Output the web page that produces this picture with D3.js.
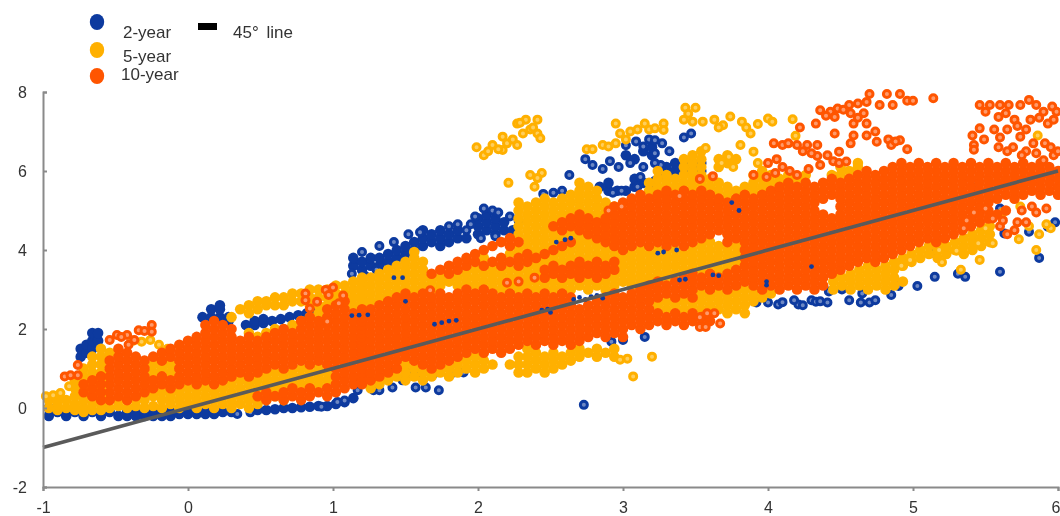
<!DOCTYPE html>
<html>
<head>
<meta charset="utf-8">
<script src="https://cdn.jsdelivr.net/npm/d3@7"></script>
<style>
html, body { margin: 0; padding: 0; background: #fff; overflow: hidden; }
svg { display: block; font-family: "Liberation Sans", Arial, sans-serif; filter: blur(0.45px); }
</style>
</head>
<body>
<div id="chart"></div>
<script>
// values: x = maturity axis, y = list of values at that x
// "Cols" are the packed parts of each cloud, "Rings" the loose points around them

const xTicks = [-1, 0, 1, 2, 3, 4, 5, 6]
const yTicks = [-2, 0, 2, 4, 6, 8]
const lineEnds = [[-1, -1], [6, 6]]

const twoYearCols = [
[-.96,[-.2,0]],[-.9,[-.1]],[-.84,[-.2,-.1]],[-.78,[-.1]],[-.72,[-.2,-.1]],[-.66,[-.1]],[-.6,[-.2,-.1]],[-.54,[-.1]],[-.48,[-.2]],[-.42,[-.2,-.1]],[-.36,[-.1,-.2]],[-.3,[-.2,-.1]],[-.24,[-.1,-.2]],[-.18,[-.2,-.1]],[-.12,[-.1,-.2]],[-.06,[-.1,-.15]],[0,[-.1,-.15]],[.06,[-.1,-.15]],[.12,[-.1,-.15]],[.18,[-.1,-.15]],[.24,[-.1]],[.3,[-.1]],[.48,[-.05]],[.54,[-.05]],[.6,[-.03]],[.66,[0]],[.72,[0]],[.78,[.02]],[.84,[.03]],[.9,[.05]],[.96,[.05]],[1.02,[.1]],[1.08,[.15]],[1.14,[.25]],
[-.74,[1.3,1.5]],[-.7,[1.4,1.6]],[-.66,[1.5,1.7,1.9]],[-.62,[1.7,1.9]],
[.1,[2.3]],[.16,[2.3,2.5]],[.22,[2.3,2.5,2.6]],[.28,[2.3,2.2]],
[.4,[2.1]],[.46,[2.1,2.2]],[.52,[2.15,2.25]],[.58,[2.2]],[.64,[2.25]],[.7,[2.3]],[.76,[2.35]],[.82,[2.4]],[.88,[2.45]],
[1.14,[3.6,3.8]],[1.2,[3.5,3.7]],[1.26,[3.6,3.8]],[1.32,[3.6,3.8]],[1.38,[3.7,3.9]],[1.44,[3.8,4]],[1.5,[3.9,4.1]],[1.56,[4,4.2]],[1.62,[4.1,4.3,4.5]],[1.68,[4.2,4.4]],[1.74,[4.1,4.3,4.5]],[1.8,[4.2,4.4]],[1.86,[4.3,4.5]],[1.92,[4.3]],[2,[4.4,4.6,4.8]],[2.06,[4.5,4.7,4.9]],[2.12,[4.4,4.6,4.8]],[2.18,[4.5,4.7]],[2.24,[4.5]],
[2.84,[5.6]],[2.9,[5.5,5.7]],[2.96,[5.5]],[3.02,[5.5,6.4]],[3.08,[5.6,5.8,6.3]],[3.14,[5.7,6.5]],[3.2,[6.4,6.6]],[3.3,[5.9,6.1]],[3.36,[6,6.2]],[3.42,[6,6.2]],[3.48,[6,6.2]],[3.54,[6,6.2]]
]
const twoYearRings = [
[1.17,.6],[1.17,.45],[1.28,.45],[1.32,.45],[1.41,.52],[1.57,.52],[1.64,.52],[1.73,.45],[1.48,.7],[1.41,.94],[1.52,.88],[1.6,.88],[1.7,.88],[1.82,.88],[1.9,.9],[2.73,.08],[2.92,1.68],[3,1.72],[3.15,1.8],
[.34,-.15],[.43,-.11],[.92,.03],[1.08,.19],[1.03,.15],
[3.92,2.67],[4,2.67],[4.07,2.62],[4.21,2.62],[4.18,2.73],[4.3,2.73],[4.33,2.69],[4.41,2.67],[4.56,2.73],[4.64,2.67],[4.7,2.67],[4.74,2.73],[4.85,2.86],[4.51,3],[4.65,2.9],[4.42,2.95],[5.03,3.09],[4.9,3.09],[4.1,2.68],[4.24,2.6],[4.36,2.7],
[5.12,3.92],[5.15,3.32],[5.31,3.4],[5.36,3.32],[5.6,3.45],[5.87,3.8],[5.8,4.46],[5.93,4.59],[5.6,5.05],[5.43,5.58],[5.63,4.42],[5.98,4.7],
[1.98,4.85],[2.04,5.05],[2.1,5],[2.14,4.95],[2.22,4.85],[2.28,4.75],[1.95,4.65],[2.02,4.3],[2.12,4.35],[1.8,4.6],[1.86,4.65],[1.92,4.5],[1.6,4.45],[1.52,4.4],[1.42,4.2],[1.32,4.1],[1.2,3.95],[1.13,3.4],[1.22,3.35],[1.3,3.5],
[2.45,5.42],[2.52,5.45],[2.58,5.5],[2.63,5.9],[2.74,6.3],[2.79,6.15],[2.91,6.25],[2.86,6.05],[2.97,6.1],[3.02,6.65],[3.05,6.2],[3.09,6.75],[3.14,6.62],[3.18,6.8],[3.22,6.78],[3.27,6.7],[3.22,6.45],[3.26,6.15],[3.22,6.2],[3.14,6.1],[2.93,5.45],[2.99,5.5],[3.1,5.6],[3.2,5.5],[3.22,5.75],[3.26,5.85],[3.42,6.85],[3.47,6.95],[3.32,6.5],[3.5,6.05],[3.12,5.85]
]
const twoYearOnTop = [
[2.66,2.75],[2.7,2.8],[2.74,2.75],[2.78,2.82],[2.82,2.85],[2.86,2.78],[2.44,2.48],[2.48,2.5],[2.5,2.42],[1.7,2.12],[1.75,2.16],[1.8,2.2],[1.85,2.22],[1.13,2.34],[1.18,2.35],[1.24,2.36],[3.24,3.92],[3.28,3.95],[3.37,4],[3.39,3.24],[3.43,3.26],[1.42,3.3],[1.48,3.3],[3.62,3.37],[3.66,3.35],[4.3,3.58],[3.99,3.11],[3.99,3.2],[2.54,4.2],[2.6,4.26],[2.64,4.3],[1.5,2.7],[3.8,5],[3.75,5.2]
]

const fiveYearCols = [
[-.96,[0,.2]],[-.9,[-.05,.1,.25]],[-.84,[0,.2]],[-.78,[-.05,.1,.3,.5,.7]],[-.72,[-.1,0,.2,.4,.6,.8,1]],[-.66,[-.05,.1,.3,.5,.7,.9,1.1,1.3]],[-.6,[-.05,.1,.3,.5,.7,.9,1.1,1.3,1.5]],[-.54,[0,.2,1.4]],[-.48,[.05,.2]],[-.42,[0,.2]],[-.36,[.05,.2]],[-.3,[0,.2,.4]],
[-.24,[.05,.3,.5,.7,.9,1.1]],[-.18,[0,.2,.4,.6,1,1.2]],[-.12,[.1,.3,.5,.9,1.1]],[-.06,[0,.2,.4,.6]],[0,[.1,.3,.5]],[.06,[0,.2,.4,.6]],[.12,[.1,.3,.5]],[.18,[0,.2,.4,.6]],[.24,[.1,.3,.5,.7]],[.3,[0,.2,.4,.6,.8,2.3]],[.36,[.1,.3,.5,.7,.9,2.5]],[.42,[0,.2,.4,.6,.8,1.9,2.4,2.6]],[.48,[.1,.3,.5,.7,.9,1.8,2.5,2.7]],[.54,[.2,.4,.6,.8,1.9,2.6,2.7]],[.6,[.3,.5,.7,.9,2,2.6,2.8]],[.66,[.2,.4,.6,.8,2,2.6,2.8]],[.72,[.5,.7,.9,2.1,2.7,2.9]],[.78,[.6,.8,1,2.2,2.7,2.9]],[.84,[.5,.7,.9,2.3,2.6,2.8,3]],[.9,[.6,.8,1,2.4,2.6,2.8,3]],[.96,[.7,.9,2.6,2.8,3]],[1.02,[2.7,2.9,3.1]],[1.08,[2.7,2.9,3.1]],[1.14,[2.6,2.8,3,3.2]],[1.2,[2.6,2.7,2.8,2.9,3,3.1,3.2,3.3]],[1.26,[.5,.7,2.7,2.9,3.1,3.3]],[1.32,[.6,.8,2.8,3,3.2,3.4]],[1.38,[.7,.9,2.9,3.1,3.3,3.5]],[1.44,[.8,2.8,3,3.2,3.4,3.6]],[1.5,[.7,.9,1.1,2.9,3.1,3.3,3.5,3.7]],[1.56,[.8,1,3,3.2,3.4,3.6,3.8,3.95]],[1.62,[.7,.9,3.1,3.3,3.5,3.7]],[1.68,[.8,3,3.2]],[1.74,[.9,3.1,3.3]],[1.8,[.8,1,3.2]],[1.86,[.9,1.1,3.1,3.3]],[1.92,[1,1.2,3.2,3.4]],[1.98,[.9,1.1,1.3,3.1,3.3,3.5]],[2.04,[1,1.2,3.2,3.4,3.8]],[2.1,[1.1,3.1,3.3,3.5]],[2.16,[3,3.2,3.4]],[2.22,[1.1,3.1,3.3,3.5,3.9]],[2.28,[.9,1.1,1.3,3,3.2,3.4,4,4.4,4.6,4.8,5,5.2]],[2.34,[.9,1.1,1.3,1.5,3.1,3.3,3.5,3.7,3.9,4.1,4.3,4.5,4.7,4.9,5.1]],[2.4,[1,1.2,1.4,3,3.2,3.4,3.6,3.8,4,4.2,4.4,4.6,4.8,5,5.2]],[2.46,[.9,1.1,1.3,3.1,3.3,3.5,3.7,3.9,4.1,4.3,4.5,4.7,4.9,5.1,5.3]],[2.52,[1,1.2,1.4,3,3.2,3.4,3.6,3.8,4,4.2,4.4,4.6,4.8,5,5.2]],[2.58,[1.1,1.3,3.1,3.3,3.5,3.7,3.9,4.1,4.3,4.5,4.7,4.9,5.1,5.3]],[2.64,[1.2,1.4,3,3.2,3.4,3.6,3.8,4,4.2,4.4,4.6,4.8,5,5.2,5.4]],[2.7,[1.3,1.5,3.1,3.3,3.5,3.7,3.9,4.1,4.3,4.5,4.7,4.9,5.1,5.3,5.5,5.7]],[2.76,[1.4,3,3.2,3.4,3.6,3.8,4,4.2,4.4,4.6,4.8,5,5.2,5.4,5.6]],[2.82,[1.3,1.5,3.1,3.3,3.5,3.7,3.9,4.1,4.3,4.5,4.7,4.9,5.1,5.3,5.5]],[2.88,[1.4,3,3.2,3.4,3.6,3.8,4,4.2,4.4,4.6,4.8,5,5.2]],[2.94,[1.3,1.5,3.1,3.3,3.5,3.7,3.9,4.1,4.3,4.5,4.7,4.9,5.1]],[3,[3.2,3.4,3.6,3.8,5]],[3.06,[3.1,3.3,3.5,3.7,3.9]],[3.12,[3,3.2,3.4,3.6,3.8,4]],[3.18,[3.1,3.3,3.5,3.7,3.9,5.5,5.7]],[3.24,[2.6,3.2,3.4,3.6,3.8,4,5.4,5.6,5.8,6]],[3.3,[2.5,2.7,3.3,3.5,3.7,3.9,5.5,5.7,5.9]],[3.36,[2.6,3.4,3.6,3.8,4,5.4,5.6,5.8]],[3.42,[2.5,2.7,3.5,3.7,3.9,5.5,5.7,5.9,6.1,6.3]],[3.48,[2.6,3.6,3.8,4,5.4,5.6,5.8,6,6.2,6.4]],[3.54,[2.5,2.7,2.9,3.5,3.7,3.9,4.1,5.5,5.7,5.9,6.1,6.3,6.5]],[3.6,[2.4,2.6,2.8,3.6,3.8,4,4.2,5.4,5.6,5.8]],[3.66,[2.5,2.7,2.9,3.5,3.7,3.9,4.1,5.3,5.5,5.7,6.1,6.3]],[3.72,[2.4,2.6,2.8,3.6,3.8,4,5.2,5.4,5.6,6.2,6.4]],[3.78,[2.5,2.7,2.9,3.7,3.9,4.1,5.3,5.5,6.3]],[3.84,[2.4,2.6,2.8,3,3.8,4,5.4,5.6]],[3.9,[2.7,2.9,5.5,5.7,5.9]],[3.96,[2.8,5.4,5.6,5.8,6]],[4.02,[2.9,5.5,5.7,5.9]],[4.08,[5.6,5.8]],[4.14,[5.7,5.9]],[4.2,[5.8]],[4.26,[5.9]],[4.44,[5.9]],[4.5,[5.9,6.1]],[4.56,[6]],[4.62,[6.1,6.2]],
[4.45,[3,3.2,3.4]],[4.51,[3.1,3.3]],[4.57,[3,3.2,3.4]],[4.63,[3.1,3.3,3.5]],[4.69,[3,3.2,3.4,3.6]],[4.75,[3.1,3.3,3.5]],[4.81,[3,3.2,3.4,3.6]],[4.87,[3.1,3.3,3.5,3.7]],[4.93,[3.2,3.6,3.8]],[4.99,[3.7,3.9]],[5.05,[3.8,4]],[5.11,[3.9,4.1]],[5.17,[3.8,4,4.2]],[5.23,[3.9,4.1]],[5.29,[4,4.2]],[5.35,[3.9,4.1,4.3]],[5.41,[4,4.2,4.4]],[5.47,[4.1,4.3,4.5]],[5.53,[4.2,4.4,4.6]]
]
const fiveYearRings = [
[1.99,6.6],[2.04,6.4],[2.1,6.66],[2.17,6.53],[2.17,6.87],[2.27,6.66],[2.27,7.2],[2.33,7.3],[2.41,7.3],[2.31,6.95],[2.41,6.95],[2.43,6.83],[2.2,6.7],[2.14,6.55],[2.24,6.8],[2.36,7.05],[2.07,6.5],[2.29,7.22],[2.38,7.1],
[2.21,5.7],[2.36,5.9],[2.44,5.95],[2.39,5.6],[2.41,5.82],
[2.95,7.2],[2.98,6.95],[3.05,7],[3.15,7.2],[3.28,7.2],[3.28,7.04],[3.1,7.05],[3.18,7.05],[3.22,7.08],[2.75,6.55],[2.86,6.66],[2.95,6.7],[2.79,6.55],[2.9,6.62],[3.02,6.8],
[3.42,7.3],[3.5,7.6],[3.43,7.6],[3.48,7.25],[3.45,7.45],[3.55,7.25],[3.63,7.3],[3.69,7.16],[3.74,7.38],[3.66,7.1],[3.82,7.25],[3.85,7.1],[3.88,6.95],[3.93,7.19],[4,7.33],[4.03,7.25],[4.17,7.31],[4.19,6.89],[3.81,6.66],[3.57,6.58],[3.73,6.36],[3.68,6.2],[3.76,6.1],[3.9,6.49],[3.93,6.2],
[-.98,.3],[-.93,.32],[-.88,.38],[-.82,.55],[-.38,1.7],[-.32,1.68],[-.26,1.72],[-.2,1.6],[-.14,1.5],
[5.2,3.69],[5.46,3.75],[5.33,3.5],[5.73,4.27],[5.87,4.4],[5.86,6.9],[5.85,4],[4.98,3.75],[4.92,3.6],[5.18,4],[5.3,3.98],[5.45,4.17],[5.55,4.17],[5.74,5.1],[5.62,4.95],[5.95,4.55],[5.8,4.6],[5.92,4.65],[5.5,4.55],
[3.07,.8],[3.2,1.3],[2.98,1.22],[3.03,1.25]
]

const tenYearCols = [
[-.72,[.4,.6]],[-.66,[.3,.5,.7]],[-.6,[.2,.4,.6,.8]],[-.54,[.2,.4,.6,.8,1,1.2]],[-.48,[.3,.5,.7,.9,1.1,1.3,1.5]],[-.42,[.2,.4,.6,.8,1,1.2,1.4]],[-.36,[.3,.5,.7,.9,1.1,1.3]],[-.3,[.4,.6,.8,1,1.2]],[-.24,[.5,.7,1.3]],[-.18,[.6,.8,1.2,1.4]],[-.12,[.5,.7,1.3,1.5]],[-.06,[.6,.8,1,1.2,1.4,1.6]],[0,[.7,.9,1.1,1.3,1.5,1.7]],[.06,[.6,.8,1,1.2,1.4,1.6,1.8]],[.12,[.7,.9,1.1,1.3,1.5,1.7,1.9,2.1]],[.18,[.6,.8,1,1.2,1.4,1.6,1.8,2,2.2]],[.24,[.7,.9,1.1,1.3,1.5,1.7,1.9,2.1]],[.3,[.8,1,1.2,1.4,1.6,1.8,2]],[.36,[.9,1.1,1.3,1.5,1.7]],[.42,[.8,1,1.2,1.4,1.6,1.8]],[.48,[.3,.9,1.1,1.3,1.5,1.7]],[.54,[.2,.4,1,1.2,1.4,1.6,1.8]],[.6,[.3,1.1,1.3,1.5,1.7,1.9]],[.66,[.2,.4,1,1.2,1.4,1.6,1.8,2]],[.72,[.3,.5,1.1,1.3,1.5,1.7,1.9]],[.78,[.2,.4,1.2,1.4,1.6,1.8,2,2.2]],[.84,[.3,.5,1.1,1.3,1.5,1.7,1.9,2.1,2.3]],[.9,[.4,1.2,1.4,1.6,1.8,2,2.2]],[.96,[.3,.5,1.1,1.3,1.5,1.7,1.9,2.1,2.3,2.5]],
[1.02,[.4,.6,.8,1,1.2,1.4,1.6,1.8,2,2.2,2.4,2.6]],[1.08,[.5,.7,.9,1.1,1.3,1.5,1.7,1.9,2.1,2.3,2.5,2.7]],[1.14,[.6,.8,1,1.2,1.4,1.6,1.8,2,2.2,2.4]],[1.2,[.6,.7,.8,.9,1,1.1,1.2,1.3,1.4,1.5,1.6,1.7,1.8,1.9,2,2.1,2.2,2.3,2.4,2.5]],[1.26,[.7,.9,1.1,1.3,1.5,1.7,1.9,2.1,2.3,2.5]],[1.32,[.8,1,1.2,1.4,1.6,1.8,2,2.2,2.4,2.6]],[1.38,[.9,1.1,1.3,1.5,1.7,1.9,2.1,2.3,2.5,2.7]],[1.44,[1,1.2,1.4,1.6,1.8,2,2.2,2.4,2.6,2.8]],[1.5,[1.3,1.5,1.7,1.9,2.1,2.3,2.5,2.7,2.9]],[1.56,[1.2,1.4,1.6,1.8,2,2.2,2.4,2.6,2.8]],[1.62,[1.1,1.3,1.5,1.7,1.9,2.1,2.3,2.5,2.7,2.9]],[1.68,[1,1.2,1.4,1.6,1.8,2,2.2,2.4,2.6,2.8,3.4]],[1.74,[1.1,1.3,1.5,1.7,1.9,2.1,2.3,2.5,2.7,2.9,3.5]],[1.8,[1.2,1.4,1.6,1.8,2,2.2,2.4,2.6,2.8,3.4,3.6]],[1.86,[1.3,1.5,1.7,1.9,2.1,2.3,2.5,2.7,2.9,3.5,3.7]],[1.92,[1.4,1.6,1.8,2,2.2,2.4,2.6,2.8,3,3.6,3.8]],[1.98,[1.5,1.7,1.9,2.1,2.3,2.5,2.7,2.9,3.7,3.9]],[2.04,[1.4,1.6,1.8,2,2.2,2.4,2.6,2.8,3,3.6,4]],[2.1,[1.5,1.7,1.9,2.1,2.3,2.5,2.7,2.9,3.7,4.1]],[2.16,[1.4,1.6,1.8,2,2.2,2.4,2.6,2.8,3.6,3.8,4.2]],[2.22,[1.5,1.7,1.9,2.1,2.3,2.5,2.7,2.9,3.7,4.1,4.3]],[2.28,[1.6,1.8,2,2.2,2.4,2.6,2.8,3.6,3.8,4.2]],[2.34,[1.7,1.9,2.1,2.3,2.5,2.7,2.9,3.7,3.9]],[2.4,[1.6,1.8,2,2.2,2.4,2.6,2.8,3.8]],[2.46,[1.7,1.9,2.1,2.3,2.5,2.7,2.9,3.3,3.5,3.9]],[2.52,[1.6,1.8,2,2.2,2.4,2.6,2.8,3.4,3.6,4,4.6]],[2.58,[1.7,1.9,2.1,2.3,2.5,2.7,2.9,3.3,3.5,4.1,4.5,4.7]],[2.64,[1.6,1.8,2,2.2,2.4,2.6,2.8,3.4,3.6,4.2,4.6,4.8]],[2.7,[1.7,1.9,2.1,2.3,2.5,3.3,3.5,3.7,4.5,4.7,4.9]],[2.76,[1.8,2,2.2,2.4,2.6,3.4,3.6,4.4,4.6,4.8]],[2.82,[1.9,2.1,2.3,2.5,2.7,3.3,3.5,3.7,4.3,4.5,4.7]],[2.88,[1.8,2,2.2,2.4,2.6,2.8,3.4,3.6,4.2,4.4,4.6,4.8]],[2.94,[1.9,2.1,2.3,2.5,2.7,2.9,3.5,3.7,4.1,4.3,4.5,4.7,4.9,5.1]],[3,[1.8,2,2.2,2.4,2.6,2.8,4,4.2,4.4,4.6,4.8,5,5.2]],[3.06,[2.1,2.3,2.5,2.7,2.9,4.1,4.3,4.5,4.7,4.9,5.1,5.3]],[3.12,[2,2.2,2.4,2.6,2.8,3,4.2,4.4,4.6,4.8,5,5.2,5.4]],[3.18,[2.1,2.3,2.5,2.7,2.9,3.1,4.1,4.3,4.5,4.7,4.9,5.1,5.3]],[3.24,[2.2,2.4,2.8,3,3.2,4.2,4.4,4.6,4.8,5,5.2,5.4]],[3.3,[2.1,2.3,2.9,3.1,4.1,4.3,4.5,4.7,4.9,5.1,5.3,5.5]],[3.36,[2.2,2.4,2.8,3,3.2,4.2,4.4,4.6,4.8,5,5.2,5.4]],[3.42,[2.1,2.3,2.9,3.1,3.3,4.1,4.3,4.5,4.7,4.9,5.1,5.3,5.5]],[3.48,[2.2,2.4,2.8,3,3.2,3.4,4.2,4.4,4.6,4.8,5,5.2,5.4]],[3.54,[2.1,2.3,3.1,3.3,4.3,4.5,4.7,4.9,5.1,5.3,5.5]],[3.6,[2.2,3,3.2,3.4,4.4,4.6,4.8,5,5.2,5.4]],[3.66,[3.1,3.3,4.5,4.7,4.9,5.1,5.3]],[3.72,[3,3.2,3.4,4.2,4.4,4.6,4.8,5,5.2]],[3.78,[3.1,3.3,3.5,4.3,4.5,4.7,4.9,5.1,5.3]],[3.84,[3.2,3.4,3.6,3.8,4,4.2,4.4,4.6,4.8,5,5.2,5.4]],[3.9,[3.1,3.3,3.5,3.7,3.9,4.1,4.3,4.5,4.7,4.9,5.1,5.3]],[3.96,[3,3.2,3.4,3.6,3.8,4,4.2,4.4,4.6,4.8,5,5.2,5.4]],
[4.02,[3.1,3.3,3.5,3.7,3.9,4.1,4.3,4.5,4.7,4.9,5.1,5.3,5.5]],[4.08,[3,3.2,3.4,3.6,3.8,4,4.2,4.4,4.6,4.8,5,5.2,5.4,5.6]],[4.14,[3.1,3.3,3.5,3.7,3.9,4.1,4.3,4.5,4.7,4.9,5.1,5.3,5.5,5.7]],[4.2,[3,3.2,3.4,3.6,3.8,4,4.2,4.4,4.6,4.8,5,5.2,5.4,5.6]],[4.26,[3.1,3.3,3.5,3.7,3.9,4.1,4.3,4.5,4.7,4.9,5.1,5.3,5.5,5.7]],[4.32,[3,3.2,3.4,3.6,3.8,4,4.2,4.4,4.6,4.8,5,5.2,5.4,5.6]],[4.38,[3.1,3.3,3.5,3.7,3.9,4.1,4.3,4.5,4.7,4.9,5.3,5.5,5.7]],[4.44,[3.4,3.6,3.8,4,4.2,4.4,4.6,4.8,5.4,5.6,5.8]],[4.5,[3.5,3.7,3.9,4.1,4.3,4.5,4.7,4.9,5.1,5.3,5.5,5.7]],[4.56,[3.6,3.8,4,4.2,4.4,4.6,4.8,5,5.2,5.4,5.6,5.8]],[4.62,[3.7,3.9,4.1,4.3,4.5,4.7,4.9,5.1,5.3,5.5,5.7,5.9]],[4.68,[3.8,4,4.2,4.4,4.6,4.8,5,5.2,5.4,5.6,5.8,6]],[4.74,[3.7,3.9,4.1,4.3,4.5,4.7,4.9,5.1,5.3,5.5,5.7,5.9]],[4.8,[3.8,4,4.2,4.4,4.6,4.8,5,5.2,5.4,5.6,5.8,6]],[4.86,[3.9,4.1,4.3,4.5,4.7,4.9,5.1,5.3,5.5,5.7,5.9,6.1]],[4.92,[4,4.2,4.4,4.6,4.8,5,5.2,5.4,5.6,5.8,6,6.2]],[4.98,[4.1,4.3,4.5,4.7,4.9,5.1,5.3,5.5,5.7,5.9,6.1]],[5.04,[4.2,4.4,4.6,4.8,5,5.2,5.4,5.6,5.8,6,6.2]],[5.1,[4.3,4.5,4.7,4.9,5.1,5.3,5.5,5.7,5.9,6.1]],[5.16,[4.2,4.4,4.6,4.8,5,5.2,5.4,5.6,5.8,6,6.2]],[5.22,[4.3,4.5,4.7,4.9,5.1,5.3,5.5,5.7,5.9,6.1]],[5.28,[4.4,4.6,4.8,5,5.2,5.4,5.6,5.8,6,6.2]],[5.34,[4.5,4.7,4.9,5.1,5.3,5.5,5.7,5.9,6.1]],[5.4,[4.6,4.8,5,5.2,5.4,5.6,5.8,6,6.2]],[5.46,[4.7,4.9,5.1,5.3,5.5,5.7,5.9,6.1]],[5.52,[4.8,5,5.2,5.4,5.6,5.8,6,6.2]],[5.58,[4.9,5.3,5.5,5.7,5.9,6.1]],[5.64,[5,5.4,5.6,5.8,6,6.2]],[5.7,[5.3,5.5,5.7,5.9,6.1]],[5.76,[5.4,5.6,5.8,6,6.2]],[5.82,[5.5,5.7,5.9,6.1]],[5.88,[5.4,5.6,5.8,6,6.2]],[5.94,[5.5,5.7,5.9,6.1]],[6,[5.4,5.6,5.8,6]]
]
const tenYearRings = [
[4.7,7.95],[4.82,7.95],[4.91,7.95],[5.14,7.84],[4.96,7.78],[5,7.78],[4.77,7.67],[4.86,7.67],[4.68,7.75],[4.62,7.71],[4.56,7.67],[4.48,7.58],[4.43,7.5],[4.36,7.54],[4.33,7.2],[4.46,7.37],[4.57,7.46],[4.66,7.46],[4.59,7.2],[4.68,7.2],[4.22,7.1],[4.46,6.95],[4.59,6.9],[4.68,6.9],[4.74,7],[4.75,6.74],[4.57,6.7],[4.83,6.8],[4.91,6.78],[4.85,6.66],[4.96,6.55],[4.4,7.4],[4.52,7.55],[4.62,7.35],[4.88,6.75],
[5.46,7.67],[5.53,7.67],[5.6,7.67],[5.66,7.67],[5.74,7.67],[5.8,7.8],[5.85,7.67],[5.96,7.63],[5.99,7.5],[5.5,7.5],[5.59,7.37],[5.64,7.46],[5.7,7.3],[5.81,7.3],[5.87,7.35],[5.93,7.2],[5.41,6.9],[5.46,7.08],[5.49,6.8],[5.42,6.66],[5.42,6.54],[5.56,7.05],[5.65,7.05],[5.72,7.14],[5.91,6.7],[5.59,6.6],[5.74,6.87],[5.83,6.7],[5.97,6.4],[5.69,6.6],[5.78,6.5],[5.9,6.27],[5.78,7.05],[5.9,7.5],[5.97,7.3],[5.6,6.85],[5.65,6.5],[5.75,6.4],[5.85,6.45],[5.95,6.6],[6,6.5],
[4.04,6.7],[4.1,6.66],[4.14,6.7],[4.2,6.66],[4.27,6.66],[4.34,6.66],[4.24,6.5],[4.34,6.38],[4.41,6.4],[4.49,6.49],[4.54,6.24],[4,6.2],[4.06,6.3],[4.1,6.1],[4.05,5.95],[3.9,5.9],[4.3,6.45],[4.45,6.25],[4.49,6.2],[4.36,6.15],[4.28,6.05],[4.2,5.9],[4.15,6],[3.62,5.87],[3.53,5.8],[3.99,5.85],
[-.54,1.72],[-.49,1.85],[-.42,1.85],[-.37,1.72],[-.34,1.97],[-.25,2.1],[-.25,1.93],[-.3,1.95],[-.41,1.6],[-.46,1.8],[-.85,.8],[-.76,1.09],[-.76,.83],[-.81,.83],
[.81,2.9],[.81,2.73],[.89,2.69],[.95,2.99],[.97,2.86],[.84,2.52],[.96,2.19],[1.04,2.65],[1,3.05],[1.07,2.85],[1.67,2.98],[2.2,3.17],[2.28,3.2],[2.39,3.3],[3.39,5.37],[2.99,5.1],[2.9,5],
[3.53,2.05],[3.57,2.05],[3.53,2.3],[3.58,2.4],[3.63,2.4],[3.67,2.14],
[5.55,4.8],[5.6,4.6],[5.65,4.4],[5.62,4.75],[5.72,4.7],[5.78,4.7],[5.7,4.5],[5.82,5.1],[5.92,5.05],[5.75,5],[5.85,4.95],[5.5,5.05],[5.42,4.95],[5.37,4.75],[5.35,4.55]
]

const colors = { blue: "#0d3a9f", yellow: "#ffb000", orange: "#ff5500" }
const holes = { blue: "#6d88c4", yellow: "#ffce5c", orange: "#ff9a6a" }

const width = 1060
const height = 516

const svg = d3.select("#chart")
    .append("svg")
    .attr("width", width)
    .attr("height", height)

const x = d3.scaleLinear().domain([-1, 6]).range([43, 1058])
const y = d3.scaleLinear().domain([-2, 8]).range([487, 92])

// columns -> flat list of [x, y]
function flatten(cols) {
    return cols.flatMap(function (c) { return c[1].map(function (v) { return [c[0], v] }) })
}

function drawPacked(cols, color) {
    svg.append("g").selectAll("circle")
        .data(flatten(cols))
        .join("circle")
        .attr("cx", d => x(d[0]))
        .attr("cy", d => y(d[1]))
        .attr("r", 5.3)
        .attr("fill", color)
}

function drawRings(points, color, hole) {
    svg.append("g").selectAll("circle")
        .data(points)
        .join("circle")
        .attr("cx", d => x(d[0]))
        .attr("cy", d => y(d[1]))
        .attr("r", 3.5)
        .attr("fill", hole)
        .attr("stroke", color)
        .attr("stroke-width", 3)
}

drawPacked(twoYearCols, colors.blue)
drawRings(twoYearRings, colors.blue, holes.blue)
drawPacked(fiveYearCols, colors.yellow)
drawRings(fiveYearRings, colors.yellow, holes.yellow)
drawPacked(tenYearCols, colors.orange)
drawRings(tenYearRings, colors.orange, holes.orange)

// small blue patches that show through the orange
svg.append("g").selectAll("circle")
    .data(twoYearOnTop)
    .join("circle")
    .attr("cx", d => x(d[0]))
    .attr("cy", d => y(d[1]))
    .attr("r", 2.4)
    .attr("fill", colors.blue)

svg.append("path")
    .attr("d", d3.line().x(d => x(d[0])).y(d => y(d[1]))(lineEnds))
    .attr("stroke", "#5a5a5a")
    .attr("stroke-width", 3.6)
    .attr("fill", "none")

const xAxis = d3.axisBottom(x).tickValues(xTicks).tickSize(4).tickPadding(11).tickFormat(d => String(d))
const yAxis = d3.axisLeft(y).tickValues(yTicks).tickSize(-4).tickPadding(16).tickFormat(d => String(d))

const gx = svg.append("g").attr("transform", "translate(0,487)").call(xAxis)
const gy = svg.append("g").attr("transform", "translate(43,0)").call(yAxis)

for (const g of [gx, gy]) {
    g.selectAll(".domain").attr("stroke", "#8a8a8a").attr("stroke-width", 2)
    g.selectAll(".tick line").attr("stroke", "#8a8a8a").attr("stroke-width", 2)
    g.selectAll(".tick text")
        .attr("fill", "#333")
        .attr("font-size", 16)
        .attr("font-family", "Liberation Sans, Arial, sans-serif")
}

// the 6 sits against the right edge, pull it in so it stays whole
gx.selectAll(".tick text").filter(d => d === 6).attr("text-anchor", "end").attr("x", 2)

// legend
const legendDots = [
    { color: colors.blue, cy: 22 },
    { color: colors.yellow, cy: 50 },
    { color: colors.orange, cy: 76 }
]
const legendLabels = [
    { text: "2-year", tx: 123, ty: 38 },
    { text: "5-year", tx: 123, ty: 62 },
    { text: "10-year", tx: 121, ty: 80 },
    { text: "45° line", tx: 233, ty: 38 }
]

svg.selectAll(".dot")
    .data(legendDots)
    .join("ellipse")
    .attr("class", "dot")
    .attr("cx", 97)
    .attr("cy", d => d.cy)
    .attr("rx", 7.2)
    .attr("ry", 8)
    .attr("fill", d => d.color)

svg.append("rect")
    .attr("x", 198).attr("y", 23)
    .attr("width", 19).attr("height", 7)
    .attr("fill", "#000")

svg.selectAll(".lab")
    .data(legendLabels)
    .join("text")
    .attr("class", "lab")
    .attr("x", d => d.tx)
    .attr("y", d => d.ty)
    .attr("font-size", 17)
    .attr("fill", "#333")
    .attr("word-spacing", 3)
    .text(d => d.text)
</script>
</body>
</html>
